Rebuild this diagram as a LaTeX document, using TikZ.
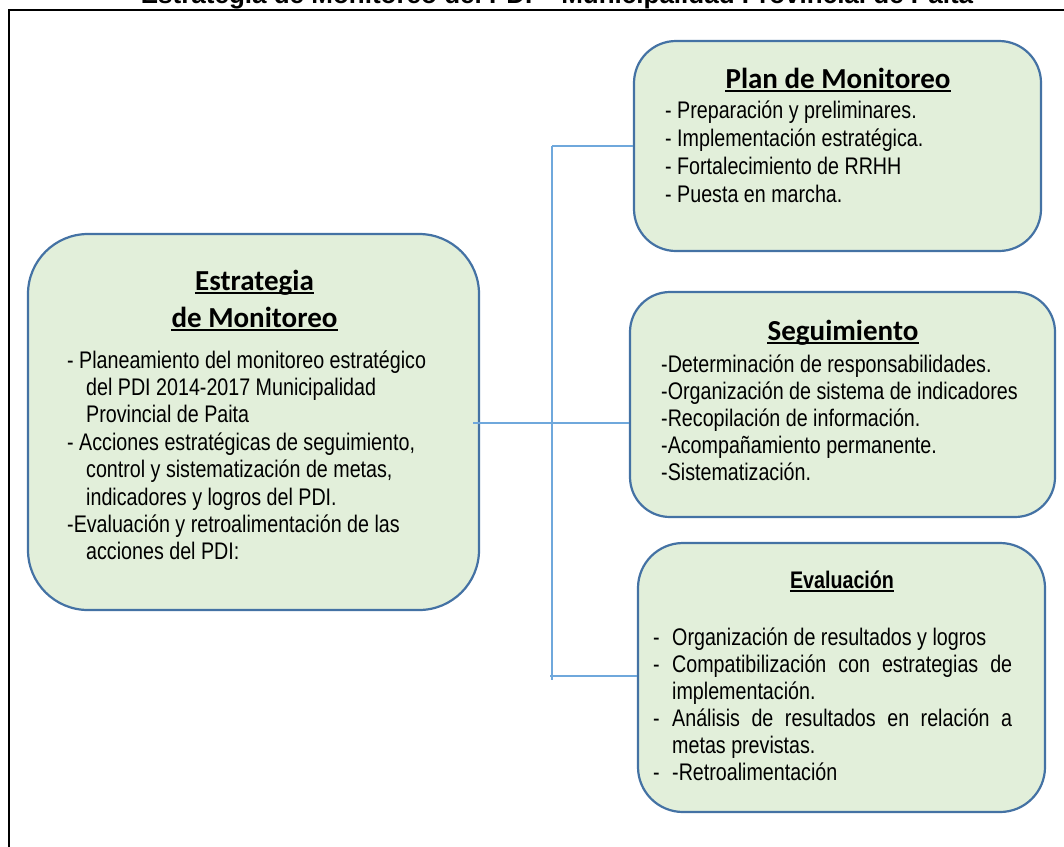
\documentclass[tikz,border=0pt]{standalone}
\usepackage{fontspec}
\setmainfont{Liberation Sans}
\newfontfamily\narrowf[FakeStretch=0.82]{Liberation Sans}
\newfontfamily\calib{Carlito}
\definecolor{boxfill}{HTML}{E2EFDA}
\definecolor{boxdraw}{HTML}{4472A4}
\definecolor{connc}{HTML}{6FA8DC}
\newcommand\mlines[2]{\parbox[t]{#1}{\raggedright #2}}
\begin{document}
\begin{tikzpicture}[x=1pt,y=-1pt,
  box/.style={draw=boxdraw, fill=boxfill, line width=2.2pt, rectangle, inner sep=0pt},
  head/.style={font=\calib\bfseries\fontsize{29}{35}\selectfont, inner sep=0pt, anchor=base},
  items/.style={font=\narrowf\fontsize{24}{#1}\selectfont, inner sep=0pt, anchor=base west},
  uline/.style={line width=1.7pt},
  conn/.style={draw=connc, line width=1.4pt}]
\useasboundingbox (0,0) rectangle (1064,846);
\clip (0,0) rectangle (1064,846);
\fill[white] (0,0) rectangle (1064,846);

% title and frame
\node[font=\bfseries\fontsize{26}{30}\selectfont, anchor=base, inner sep=0pt] (title) at (557,3)
  {Estrategia de Monitoreo del PDI – Municipalidad Provincial de Paita};
\coordinate (fa) at (9,870);
\coordinate (fb) at (9,10);
\coordinate (fc) at (1080,10);
\draw[line width=2.5pt] (fa) -- (fb) -- (fc);

% boxes
\node[box, rounded corners=60pt, minimum width=451pt, minimum height=376pt] (est) at (253.5,422) {};
\node[box, rounded corners=42pt, minimum width=407pt, minimum height=210pt] (plan) at (837.5,146) {};
\node[box, rounded corners=40pt, minimum width=425pt, minimum height=225pt] (seg) at (842.5,404.5) {};
\node[box, rounded corners=45pt, minimum width=407pt, minimum height=269pt] (ev) at (841.5,677.5) {};

% Estrategia
\node[head] (esth1) at (254.5,290) {Estrategia};
\node[head] (esth2) at (254.5,327) {de Monitoreo};
\draw[uline] ([yshift=-3pt]esth1.base west) -- ([yshift=-3pt]esth1.base east);
\draw[uline] ([yshift=-3pt]esth2.base west) -- ([yshift=-3pt]esth2.base east);
\node[items=27.4] (estt) at (67,368) {\mlines{420pt}{%
- Planeamiento del monitoreo estratégico\\
\hspace*{19pt}del PDI 2014-2017 Municipalidad\\
\hspace*{19pt}Provincial de Paita\\
- Acciones estratégicas de seguimiento,\\
\hspace*{19pt}control y sistematización de metas,\\
\hspace*{19pt}indicadores y logros del PDI.\\
-Evaluación y retroalimentación de las\\
\hspace*{19pt}acciones del PDI:}};

% Plan de Monitoreo
\node[head] (planh) at (838,88) {Plan de Monitoreo};
\draw[uline] ([yshift=-3pt]planh.base west) -- ([yshift=-3pt]planh.base east);
\node[items=28] (plant) at (665,118) {\mlines{360pt}{%
- Preparación y preliminares.\\
- Implementación estratégica.\\
- Fortalecimiento de RRHH\\
- Puesta en marcha.}};

% Seguimiento
\node[head] (segh) at (843,340) {Seguimiento};
\draw[uline] ([yshift=-3pt]segh.base west) -- ([yshift=-3pt]segh.base east);
\node[items=27] (segt) at (661,372) {\mlines{390pt}{%
-Determinación de responsabilidades.\\
-Organización de sistema de indicadores\\
-Recopilación de información.\\
-Acompañamiento permanente.\\
-Sistematización.}};

% Evaluacion
\node[font=\narrowf\bfseries\fontsize{24}{28}\selectfont, inner sep=0pt, anchor=base] (evh) at (842,588) {Evaluación};
\draw[line width=1.3pt] ([yshift=-3pt]evh.base west) -- ([yshift=-3pt]evh.base east);
\node[items=27] (evt) at (653,645) {\mlines{380pt}{%
\makebox[19pt][l]{-}Organización de resultados y logros\\
\makebox[19pt][l]{-}\makebox[340pt][s]{Compatibilización con estrategias de}\\
\hspace*{19pt}implementación.\\
\makebox[19pt][l]{-}\makebox[340pt][s]{Análisis de resultados en relación a}\\
\hspace*{19pt}metas previstas.\\
\makebox[19pt][l]{-}-Retroalimentación}};

% connectors
\coordinate (jt) at (552,146);
\coordinate (jb) at (552,680);
\coordinate (ms) at (473,423);
\coordinate (bs) at (550,676);
\draw[conn] (jt) -- (jb);
\draw[conn] (jt) -- (plan.west);
\draw[conn] (ms) -- (seg.west |- ms);
\draw[conn] (bs) -- (ev.west |- bs);
\end{tikzpicture}
\end{document}
